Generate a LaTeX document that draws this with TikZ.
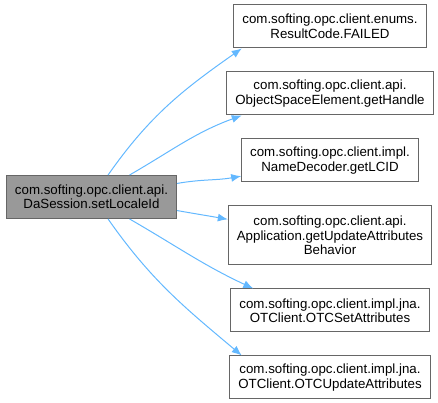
\documentclass[tikz,border=0pt]{standalone}
\usepackage{fontspec}
\setmainfont{Liberation Sans}
\usepackage{tikz}
\usetikzlibrary{arrows.meta,positioning}

\definecolor{edgeblue}{HTML}{63B8FF}
\definecolor{boxgray}{HTML}{999999}
\definecolor{linegray}{HTML}{666666}

\begin{document}
\begin{tikzpicture}[x=1pt,y=1pt,
    fn/.style={draw=linegray, line width=1pt, fill=white, align=center, inner xsep=8.5pt, inner ysep=0pt,
               minimum height=43pt, font=\fontsize{13.3}{14.5}\selectfont},
    caller/.style={fn, fill=boxgray},
    call/.style={draw=edgeblue, line width=1pt, -{Latex[length=10pt,width=8pt]}},
    node distance=23pt]
\useasboundingbox (0,0) rectangle (438,403);
\node[caller] (setLocaleId) at (91.5,206) {com.softing.opc.client.api.\\DaSession.setLocaleId};
\node[fn] (failed) at (330,376.5) {com.softing.opc.client.enums.\\ResultCode.FAILED};
\node[fn] (getHandle) [below=of failed] {com.softing.opc.client.api.\\ObjectSpaceElement.getHandle};
\node[fn] (getLCID) [below=of getHandle] {com.softing.opc.client.impl.\\NameDecoder.getLCID};
\node[fn, minimum height=59pt] (getBehavior) [below=of getLCID] {com.softing.opc.client.api.\\Application.getUpdateAttributes\\Behavior};
\node[fn] (setAttrs) [below=of getBehavior] {com.softing.opc.client.impl.jna.\\OTClient.OTCSetAttributes};
\node[fn] (updateAttrs) [below=of setAttrs] {com.softing.opc.client.impl.jna.\\OTClient.OTCUpdateAttributes};
% calls
\draw[call] (setLocaleId.53) to[out=55,in=215] (failed.194);
\draw[call] (setLocaleId.30) to[out=30,in=200] (getHandle.194);
\draw[call] (setLocaleId.9) to[out=10,in=190] (getLCID.190);
\draw[call] (setLocaleId.-9) to[out=-10,in=170] (getBehavior.171);
\draw[call] (setLocaleId.-30) to[out=-30,in=155] (setAttrs.164);
\draw[call] (setLocaleId.-53) to[out=-55,in=140] (updateAttrs.166);
\end{tikzpicture}
\end{document}
